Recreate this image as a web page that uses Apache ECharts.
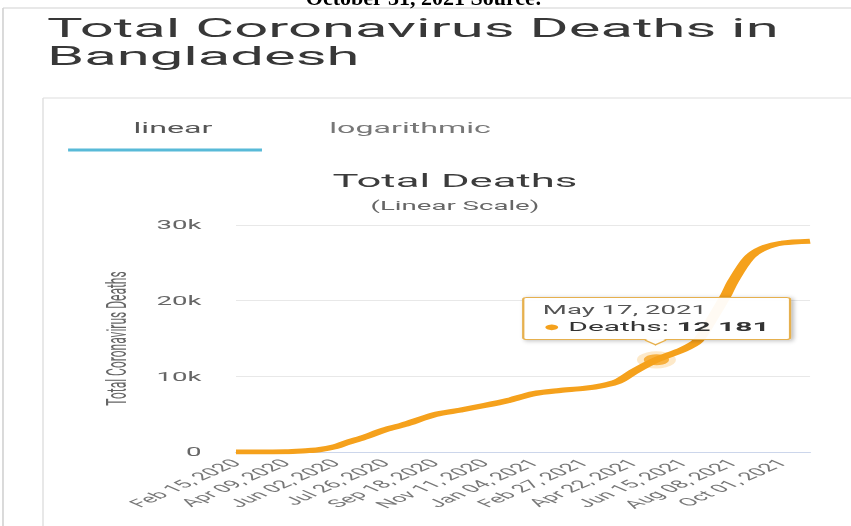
<!DOCTYPE html>
<html>
<head>
<meta charset="utf-8">
<title>Total Coronavirus Deaths in Bangladesh</title>
<script src="https://cdn.jsdelivr.net/npm/echarts@6/dist/echarts.min.js"></script>
<style>
  html, body { margin: 0; padding: 0; background: #fff; overflow: hidden; }
  .page { position: relative; width: 851px; height: 526px; overflow: hidden; }
  /* the source screenshot is stretched sideways, so the chart is drawn narrow and widened */
  .echart-view { position: absolute; left: 0; top: 0; width: 370px; height: 526px;
    transform: scaleX(2.3); transform-origin: 0 0; }
  .cut-caption { position: absolute; left: 250px; top: -13px; width: 348px; text-align: center;
    font: bold 22px/22px "Liberation Serif", "DejaVu Serif", serif; color: #000; white-space: nowrap; }
</style>
</head>
<body>
<div class="page">
  <div class="echart-view" id="chart-deaths"></div>
  <div class="cut-caption">October 31, 2021 Source:</div>
</div>
<script>
  // cumulative deaths
  const dates = ['2020-02-15', '2020-03-18', '2020-04-09', '2020-05-01', '2020-05-15', '2020-06-02',
    '2020-06-15', '2020-07-01', '2020-07-26', '2020-08-15', '2020-09-18', '2020-10-15', '2020-11-11',
    '2020-12-08', '2021-01-04', '2021-02-01', '2021-02-27', '2021-03-20', '2021-04-05', '2021-04-22',
    '2021-05-17', '2021-06-15', '2021-07-01', '2021-07-15', '2021-08-01', '2021-08-08', '2021-08-25',
    '2021-09-10', '2021-10-01', '2021-10-31']
  const deaths = [0, 1, 21, 170, 298, 709,
    1262, 1847, 2928, 3591, 4939, 5524, 6140,
    6838, 7718, 8127, 8408, 8797, 9318, 10588,
    12181, 13548, 14700, 17300, 20800, 22500, 25600,
    26931, 27621, 27867]
  const tickLabels = ['Feb 15, 2020', 'Apr 09, 2020', 'Jun 02, 2020', 'Jul 26, 2020', 'Sep 18, 2020',
    'Nov 11, 2020', 'Jan 04, 2021', 'Feb 27, 2021', 'Apr 22, 2021', 'Jun 15, 2021', 'Aug 08, 2021', 'Oct 01, 2021']
  const tickStep = 54
  const yTicks = [0, 10000, 20000, 30000]
  const tipDate = '2021-05-17'
  const tipLabel = 'May 17, 2021'

  const startDate = dates[0]
  const endDate = '2021-10-31'
  const DAY = 86400000
  function dayIndex(d){
    return Math.round((Date.parse(d) - Date.parse(startDate)) / DAY)
  }
  const lineData = dates.map((d, i) => [dayIndex(d), deaths[i]])
  const tipValue = deaths[dates.indexOf(tipDate)]

  const orange = '#F5A11C'
  const font = 'Roboto, "Liberation Sans", Arial, sans-serif'

  var myChart = echarts.init(document.getElementById('chart-deaths'), null, {renderer: 'svg'})
  let chartOption = {
    animation: false,
    textStyle: {fontFamily: font},
    graphic: [
      // outer frame of the screenshot
      {type: 'line', silent: true, shape: {x1: 1.3, y1: 8, x2: 370, y2: 8}, style: {stroke: '#d2d2d2', lineWidth: 1.2}},
      {type: 'line', silent: true, shape: {x1: 1.3, y1: 8, x2: 1.3, y2: 526}, style: {stroke: '#d2d2d2', lineWidth: 0.7}},
      // card
      {type: 'line', silent: true, shape: {x1: 18.7, y1: 98, x2: 370, y2: 98}, style: {stroke: '#dedede', lineWidth: 1.2}},
      {type: 'line', silent: true, shape: {x1: 18.7, y1: 98, x2: 18.7, y2: 526}, style: {stroke: '#dedede', lineWidth: 0.6}},
      {
        type: 'text', silent: true, x: 20.4, y: 15,
        style: {text: 'Total Coronavirus Deaths in', fontSize: 26, fontFamily: font,
          fill: '#383838', textVerticalAlign: 'top', verticalAlign: 'top'}
      },
      {
        type: 'text', silent: true, x: 20.4, y: 43,
        style: {text: 'Bangladesh', fontSize: 26, fontFamily: font,
          fill: '#383838', textVerticalAlign: 'top', verticalAlign: 'top'}
      },
      // tabs
      {
        type: 'text', silent: true, x: 75.2, y: 128,
        style: {text: 'linear', fontSize: 14, fontFamily: font, fill: '#555',
          textAlign: 'center', align: 'center', textVerticalAlign: 'middle', verticalAlign: 'middle'}
      },
      {
        type: 'text', silent: true, x: 178.3, y: 128,
        style: {text: 'logarithmic', fontSize: 14, fontFamily: font, fill: '#777',
          textAlign: 'center', align: 'center', textVerticalAlign: 'middle', verticalAlign: 'middle'}
      },
      {type: 'rect', silent: true, shape: {x: 29.6, y: 148.5, width: 84.3, height: 3}, style: {fill: '#58bad8'}},
      // chart title
      {
        type: 'text', silent: true, x: 197.8, y: 181,
        style: {text: 'Total Deaths', fontSize: 19, fontFamily: font, fill: '#3c3c3c',
          textAlign: 'center', align: 'center', textVerticalAlign: 'middle', verticalAlign: 'middle'}
      },
      {
        type: 'text', silent: true, x: 197.8, y: 206,
        style: {text: '(Linear Scale)', fontSize: 12, fontFamily: font, fill: '#666',
          textAlign: 'center', align: 'center', textVerticalAlign: 'middle', verticalAlign: 'middle'}
      }
    ],
    tooltip: {
      trigger: 'item',
      triggerOn: 'none',
      alwaysShowContent: true,
      position: 'top',
      backgroundColor: 'rgba(255,255,255,0.95)',
      borderColor: '#e6b04e',
      borderWidth: 1.5,
      padding: [4, 8],
      extraCssText: 'box-shadow: 1px 1px 3px rgba(0,0,0,0.25); border-radius: 2px;',
      formatter: function(){
        let v = String(tipValue).replace(/\B(?=(\d{3})+(?!\d))/g, ' ')
        return '<div style="font-family:' + font.replace(/"/g, "'") + '">' +
          '<div style="font-size:12px;line-height:16px;color:#555">' + tipLabel + '</div>' +
          '<div style="font-size:13px;line-height:17px;color:#333"><span style="color:' + orange + '">&#9679;</span> Deaths: <b>' + v + '</b></div>' +
          '</div>'
      }
    },
    grid: {left: 102.6, right: 17.8, top: 225, bottom: 74},
    xAxis: {
      type: 'value',
      min: 0,
      max: dayIndex(endDate),
      interval: tickStep,
      axisLine: {show: true, lineStyle: {color: '#ccd6eb', width: 1}},
      axisTick: {show: false},
      splitLine: {show: false},
      axisLabel: {
        rotate: 45,
        margin: 9,
        fontSize: 11,
        color: '#777',
        showMaxLabel: false,
        formatter: function(v){
          return v % tickStep === 0 ? (tickLabels[v / tickStep] || '') : ''
        }
      }
    },
    yAxis: {
      type: 'value',
      min: yTicks[0],
      max: yTicks[yTicks.length - 1],
      interval: yTicks[1] - yTicks[0],
      name: 'Total Coronavirus Deaths',
      nameLocation: 'middle',
      nameGap: 46,
      nameTextStyle: {color: '#666', fontSize: 12},
      axisLine: {show: false},
      axisTick: {show: false},
      splitLine: {lineStyle: {color: '#e8e8e8'}},
      axisLabel: {
        margin: 15,
        fontSize: 12,
        color: '#666',
        formatter: function(v){ return v === 0 ? '0' : (v / 1000) + 'k' }
      }
    },
    series: [
      {
        name: 'Deaths',
        type: 'line',
        data: lineData,
        smooth: 0.3,
        showSymbol: false,
        silent: true,
        tooltip: {show: false},
        lineStyle: {color: orange, width: 5},
        itemStyle: {color: orange}
      },
      {
        name: 'Deaths',
        type: 'scatter',
        data: [[dayIndex(tipDate), tipValue]],
        symbolSize: 11,
        itemStyle: {color: orange, borderColor: 'rgba(245,161,28,0.3)', borderWidth: 6},
        z: 5
      }
    ]
  }
  myChart.setOption(chartOption)
  myChart.dispatchAction({type: 'showTip', seriesIndex: 1, dataIndex: 0})
</script>
</body>
</html>
